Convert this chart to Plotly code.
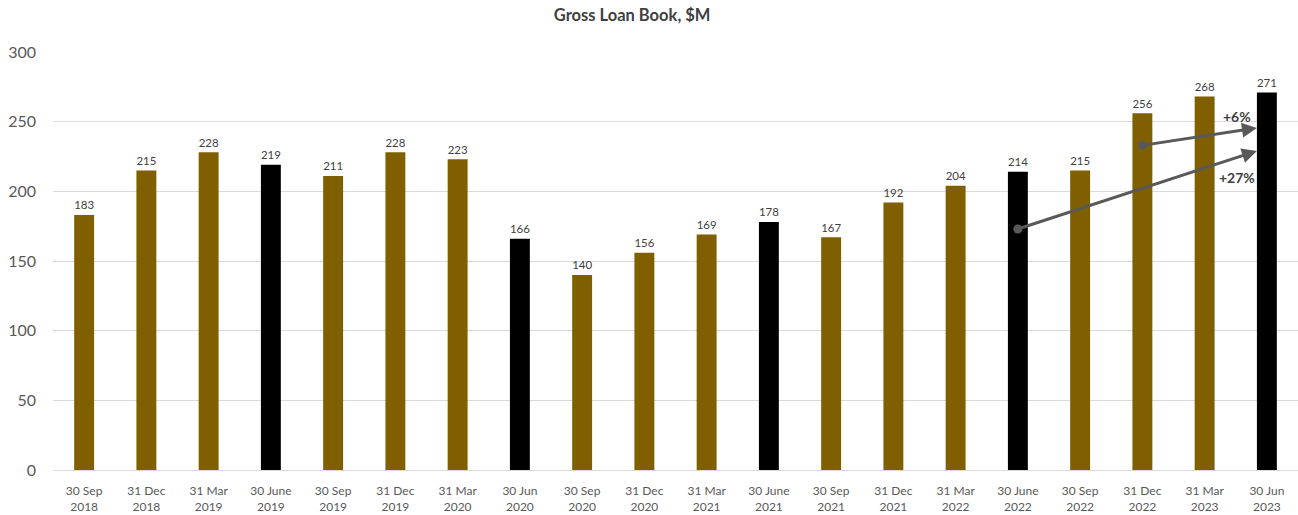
import plotly.graph_objects as go

categories = ["30 Sep<br>2018", "31 Dec<br>2018", "31 Mar<br>2019", "30 June<br>2019", "30 Sep<br>2019",
              "31 Dec<br>2019", "31 Mar<br>2020", "30 Jun<br>2020", "30 Sep<br>2020", "31 Dec<br>2020",
              "31 Mar<br>2021", "30 June<br>2021", "30 Sep<br>2021", "31 Dec<br>2021", "31 Mar<br>2022",
              "30 June<br>2022", "30 Sep<br>2022", "31 Dec<br>2022", "31 Mar<br>2023", "30 Jun<br>2023"]
values = [183, 215, 228, 219, 211, 228, 223, 166, 140, 156, 169, 178, 167, 192, 204, 214, 215, 256, 268, 271]
year_end = [False, False, False, True, False, False, False, True, False, False,
            False, True, False, False, False, True, False, False, False, True]

GOLD = "#7F5F00"
BLACK = "#000000"
colors = [BLACK if ye else GOLD for ye in year_end]

# growth arrows: (start index, start value, end index, end value, label, label y)
arrows = [
    (17, 233, 18.84, 245.5, "+6%", 254),
    (15, 173, 18.84, 229, "+27%", 210),
]

fig = go.Figure()
fig.add_trace(go.Bar(
    x=list(range(len(categories))), y=values, marker=dict(color=colors, line=dict(width=0)),
    width=0.32, text=[str(v) for v in values], textposition="outside",
    textfont=dict(family="Lato, Open Sans, sans-serif", size=12.5, color="#404040"),
    cliponaxis=False, hoverinfo="skip", showlegend=False,
))

for sx, sy, ex, ey, lab, ly in arrows:
    fig.add_trace(go.Scatter(x=[sx], y=[sy], mode="markers",
                             marker=dict(color="#595959", size=9), showlegend=False, hoverinfo="skip"))
    fig.add_annotation(x=ex, y=ey, ax=sx, ay=sy, xref="x", yref="y", axref="x", ayref="y",
                       showarrow=True, arrowhead=2, arrowsize=1, arrowwidth=3, arrowcolor="#595959",
                       text="")
    fig.add_annotation(x=18.52, y=ly, xref="x", yref="y", text="<b>" + lab + "</b>", showarrow=False,
                       font=dict(family="Lato, Open Sans, sans-serif", size=14, color="#404040"))

fig.update_layout(
    width=1298, height=515,
    margin=dict(l=53, r=0, t=52, b=45),
    plot_bgcolor="white", paper_bgcolor="white",
    title=dict(text="<b>Gross Loan Book, $M</b>", x=0.487, xanchor="center", y=1 - 15 / 515,
               yanchor="middle", yref="container",
               font=dict(family="Lato, Open Sans, sans-serif", size=16.5, color="#404040")),
    bargap=0.68,
    font=dict(family="Lato, Open Sans, sans-serif"),
)
fig.update_xaxes(tickmode="array", tickvals=list(range(len(categories))), ticktext=categories,
                 range=[-0.5, len(categories) - 0.5], automargin=False,
                 showgrid=False, showline=True, linecolor="#d9d9d9", linewidth=1,
                 ticks="", ticklabelstandoff=10, tickfont=dict(size=12, color="#595959"), zeroline=False)
fig.update_yaxes(range=[0, 300], dtick=50, showgrid=True, gridcolor="#d9d9d9", gridwidth=1,
                 zeroline=False, ticks="", ticklabelstandoff=16, automargin=False,
                 tickfont=dict(size=16, color="#595959"))

fig.write_html("out.html", config={"displayModeBar": False},
               post_script="document.body.style.margin='0';document.body.style.overflow='hidden';")
